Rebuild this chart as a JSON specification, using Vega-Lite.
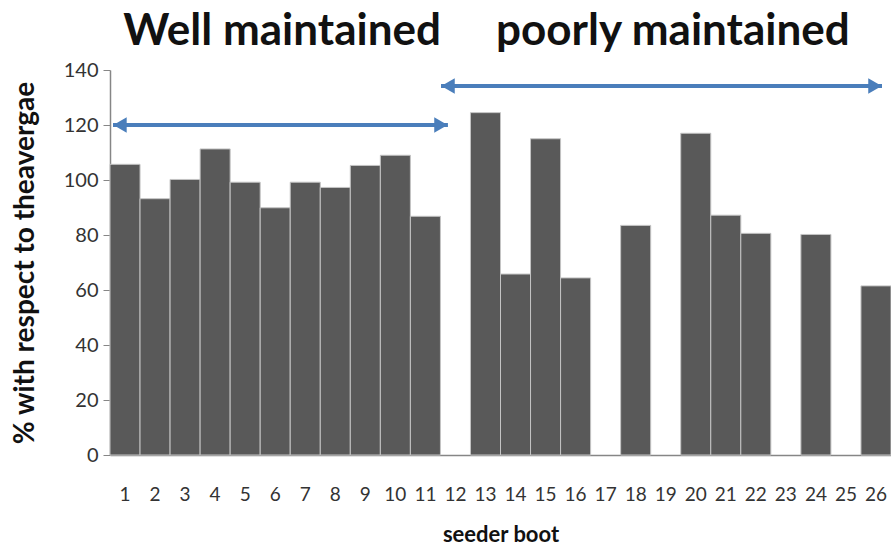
{
  "$schema": "https://vega.github.io/schema/vega-lite/v6.json",
  "width": 781,
  "height": 385,
  "autosize": {"type": "none"},
  "padding": {"left": 110, "top": 70, "right": 0, "bottom": 94},
  "background": "white",
  "config": {
    "view": {"stroke": null},
    "font": "Lato, sans-serif"
  },
  "datasets": {
    "boots": [
      {"boot": "1", "pct": 105.7},
      {"boot": "2", "pct": 93.2},
      {"boot": "3", "pct": 100.2},
      {"boot": "4", "pct": 111.3},
      {"boot": "5", "pct": 99.2},
      {"boot": "6", "pct": 89.9},
      {"boot": "7", "pct": 99.2},
      {"boot": "8", "pct": 97.3},
      {"boot": "9", "pct": 105.3},
      {"boot": "10", "pct": 109.0},
      {"boot": "11", "pct": 86.8},
      {"boot": "13", "pct": 124.5},
      {"boot": "14", "pct": 65.8},
      {"boot": "15", "pct": 115.0},
      {"boot": "16", "pct": 64.4},
      {"boot": "18", "pct": 83.5},
      {"boot": "20", "pct": 117.0},
      {"boot": "21", "pct": 87.2},
      {"boot": "22", "pct": 80.6},
      {"boot": "24", "pct": 80.2},
      {"boot": "26", "pct": 61.5}
    ],
    "groups": [
      {"group": "Well maintained", "from": 0.6, "to": 11.75, "level": 120, "labelAt": 6.23},
      {"group": "poorly maintained", "from": 11.52, "to": 26.2, "level": 134.2, "labelAt": 19.24}
    ]
  },
  "layer": [
    {
      "data": {"name": "boots"},
      "mark": {"type": "bar", "fill": "#595959", "stroke": "#c4c4c4", "strokeWidth": 1},
      "encoding": {
        "x": {
          "field": "boot",
          "type": "ordinal",
          "scale": {
            "domain": ["1","2","3","4","5","6","7","8","9","10","11","12","13","14","15","16","17","18","19","20","21","22","23","24","25","26"],
            "paddingInner": 0,
            "paddingOuter": 0
          },
          "axis": {
            "title": "seeder boot",
            "titleFontSize": 22,
            "titleFontWeight": "bold",
            "titleColor": "#111111",
            "titlePadding": 20,
            "labelAngle": 0,
            "labelFontSize": 19,
            "labelColor": "#333333",
            "labelPadding": 30,
            "ticks": false,
            "domainColor": "#868686",
            "domainWidth": 1.5
          }
        },
        "y": {
          "field": "pct",
          "type": "quantitative",
          "scale": {"domain": [0, 140], "nice": false},
          "axis": {
            "title": "% with respect to theavergae",
            "titleFontSize": 28,
            "titleFontWeight": "bold",
            "titleColor": "#111111",
            "titlePadding": 24,
            "values": [0, 20, 40, 60, 80, 100, 120, 140],
            "labelFontSize": 20,
            "labelColor": "#333333",
            "labelPadding": 5,
            "tickSize": 7,
            "tickColor": "#868686",
            "domainColor": "#868686",
            "domainWidth": 1.5,
            "grid": false
          }
        }
      }
    },
    {
      "mark": {"type": "rule", "color": "#8eb0da", "strokeWidth": 1.5},
      "encoding": {
        "y": {"datum": 140}
      }
    },
    {
      "data": {"name": "groups"},
      "layer": [
        {
          "mark": {"type": "rule", "color": "#4a7ebb", "strokeWidth": 4},
          "encoding": {
            "x": {"field": "from", "type": "quantitative", "scale": {"domain": [0.5, 26.5], "nice": false, "zero": false}, "axis": null},
            "x2": {"field": "to"},
            "y": {"field": "level", "type": "quantitative"}
          }
        },
        {
          "mark": {"type": "point", "shape": "triangle-left", "filled": true, "color": "#4a7ebb", "size": 240, "opacity": 1, "xOffset": 7},
          "encoding": {
            "x": {"field": "from", "type": "quantitative", "scale": {"domain": [0.5, 26.5], "nice": false, "zero": false}, "axis": null},
            "y": {"field": "level", "type": "quantitative"}
          }
        },
        {
          "mark": {"type": "point", "shape": "triangle-right", "filled": true, "color": "#4a7ebb", "size": 240, "opacity": 1, "xOffset": -7},
          "encoding": {
            "x": {"field": "to", "type": "quantitative", "scale": {"domain": [0.5, 26.5], "nice": false, "zero": false}, "axis": null},
            "y": {"field": "level", "type": "quantitative"}
          }
        },
        {
          "mark": {"type": "text", "fontSize": 44, "fontWeight": "bold", "color": "#111111", "align": "center", "baseline": "middle"},
          "encoding": {
            "x": {"field": "labelAt", "type": "quantitative", "scale": {"domain": [0.5, 26.5], "nice": false, "zero": false}, "axis": null},
            "y": {"datum": 154},
            "text": {"field": "group"}
          }
        }
      ]
    }
  ],
  "resolve": {"scale": {"x": "independent"}}
}
